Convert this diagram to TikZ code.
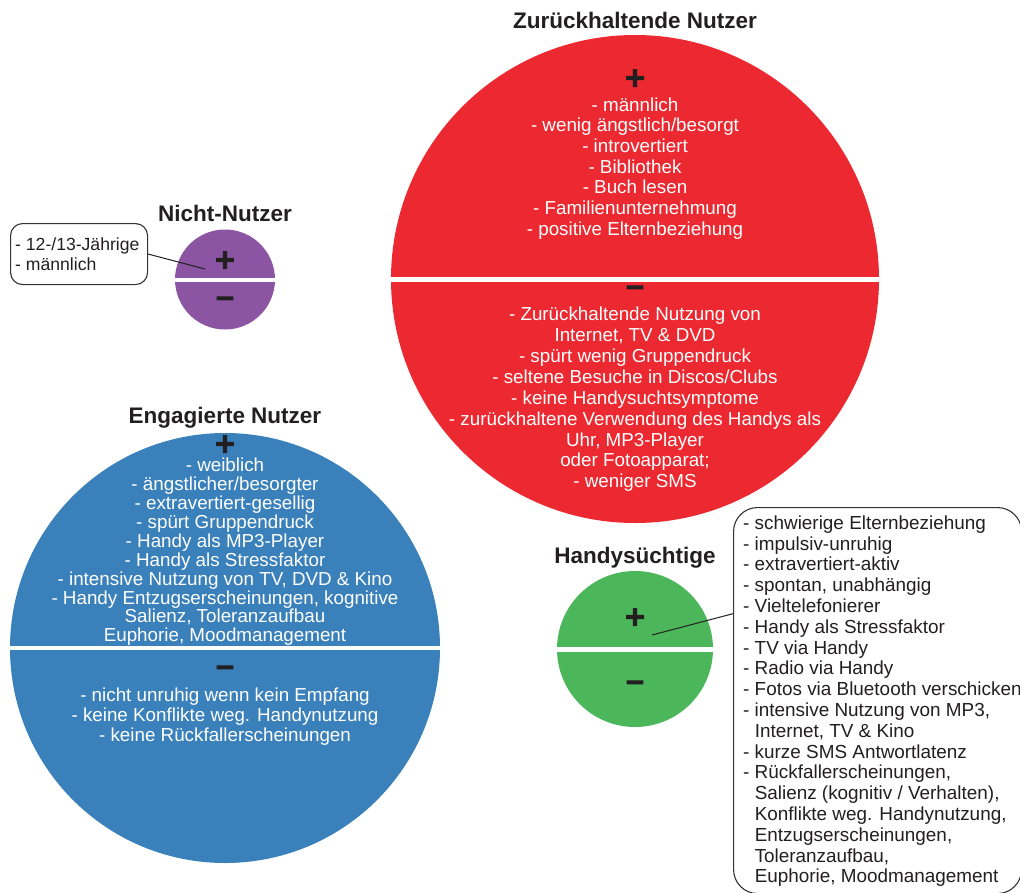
\documentclass[tikz,border=0pt]{standalone}
\usepackage{fontspec}
\setmainfont{Liberation Sans}
\newfontfamily\symf{DejaVu Sans Bold}[FakeBold=4]
\definecolor{redc}{HTML}{EC2830}
\definecolor{bluec}{HTML}{3A80BB}
\definecolor{greenc}{HTML}{4BB75A}
\definecolor{purplec}{HTML}{8B55A3}
\definecolor{titlec}{HTML}{231F20}
\definecolor{linec}{HTML}{333333}
\begin{document}
\begin{tikzpicture}[x=1pt,y=-1pt,
  disc/.style={circle, inner sep=0pt, minimum size=#1},
  divider/.style={white, line width=#1},
  pm/.style={font=\symf\fontsize{27}{27}\selectfont, text=titlec, inner sep=0pt},
  mn/.style={font=\symf\fontsize{25}{25}\selectfont, text=titlec, inner sep=0pt},
  ttl/.style={font=\bfseries\fontsize{22.5}{27}\selectfont, text=titlec, anchor=base, inner sep=0pt},
  wlist/.style={align=center, text=white, anchor=base, inner sep=0pt, font=\fontsize{18.8}{#1}\selectfont},
  klist/.style={align=left, text=titlec, anchor=base west, inner sep=0pt, font=\fontsize{#1}{20.8}\selectfont},
  callout/.style={draw=linec, line width=1.1pt, fill=white, rounded corners=#1, inner sep=0pt, anchor=north west},
  conn/.style={draw=titlec, line width=1pt}]
\useasboundingbox (0,0) rectangle (1020,892);
\clip (0,0) rectangle (1020,892);

% ---------- Zurueckhaltende Nutzer ----------
\node[disc=488, fill=redc] (zc) at (635,279) {};
\draw[divider=5pt] ([xshift=-2pt]zc.west) -- ([xshift=2pt]zc.east);
\node[ttl] (zt) at (635,28) {Zurückhaltende Nutzer};
\node[pm] (zp) at (635,78) {+};
\node[mn] (zm) at (635,290.5) {−};
\node[wlist=20.7] (zl1) at (635,235.2) {- männlich\\- wenig ängstlich/besorgt\\- introvertiert\\- Bibliothek\\- Buch lesen\\- Familienunternehmung\\- positive Elternbeziehung};
\node[wlist=20.84] (zl2) at (635,487.7) {- Zurückhaltende Nutzung von\\Internet, TV \& DVD\\- spürt wenig Gruppendruck\\- seltene Besuche in Discos/Clubs\\- keine Handysuchtsymptome\\- zurückhaltene Verwendung des Handys als\\Uhr, MP3-Player\\oder Fotoapparat;\\- weniger SMS};

% ---------- Nicht-Nutzer ----------
\node[disc=100, fill=purplec] (nc) at (225,279.5) {};
\draw[divider=4pt] ([xshift=-2pt]nc.west) -- ([xshift=2pt]nc.east);
\node[ttl] (nt) at (225,221.5) {Nicht-Nutzer};
\node[pm] (np) at (225,260) {+};
\node[mn] (nm) at (225,301.5) {−};
\node[callout=12pt, minimum width=137, minimum height=61] (nbox) at (10,223) {};
\node[klist=17.6] (nl) at (15,270.8) {- 12-/13-Jährige\\- männlich};
\coordinate (ntip) at (205,269);
\draw[conn] (nbox.east) -- (ntip);

% ---------- Engagierte Nutzer ----------
\node[disc=430, fill=bluec] (ec) at (225,648) {};
\draw[divider=4pt] ([xshift=-2pt]ec.west) -- ([xshift=2pt]ec.east);
\node[ttl] (et) at (225,423.5) {Engagierte Nutzer};
\node[pm] (ep) at (225,444) {+};
\node[mn] (em) at (225,670.5) {−};
\node[wlist=18.9] (el1) at (225,641.8) {- weiblich\\- ängstlicher/besorgter\\- extravertiert-gesellig\\- spürt Gruppendruck\\- Handy als MP3-Player\\- Handy als Stressfaktor\\- intensive Nutzung von TV, DVD \& Kino\\- Handy Entzugserscheinungen, kognitive\\Salienz, Toleranzaufbau\\Euphorie, Moodmanagement};
\node[wlist=20] (el2) at (225,741) {- nicht unruhig wenn kein Empfang\\- keine Konflikte weg. Handynutzung\\- keine Rückfallerscheinungen};

% ---------- Handysuechtige ----------
\node[disc=156, fill=greenc] (gc) at (635,649) {};
\draw[divider=5pt] ([xshift=-2pt]gc.west) -- ([xshift=2pt]gc.east);
\node[ttl] (gt) at (635,563.5) {Handysüchtige};
\node[pm] (gp) at (635,617) {+};
\node[mn] (gm) at (635,685.5) {−};
\node[callout=24pt, minimum width=288, minimum height=386] (gbox) at (733,507) {};
\node[klist=18.9] (gl) at (743,882.9) {- schwierige Elternbeziehung\\- impulsiv-unruhig\\- extravertiert-aktiv\\- spontan, unabhängig\\- Vieltelefonierer\\- Handy als Stressfaktor\\- TV via Handy\\- Radio via Handy\\- Fotos via Bluetooth verschicken\\- intensive Nutzung von MP3,\\\hphantom{- }Internet, TV \& Kino\\- kurze SMS Antwortlatenz\\- Rückfallerscheinungen,\\\hphantom{- }Salienz (kognitiv / Verhalten),\\\hphantom{- }Konflikte weg. Handynutzung,\\\hphantom{- }Entzugserscheinungen,\\\hphantom{- }Toleranzaufbau,\\\hphantom{- }Euphorie, Moodmanagement};
\coordinate (gtip) at (652,635);
\draw[conn] (gtip) -- (gbox.149);
\end{tikzpicture}
\end{document}
